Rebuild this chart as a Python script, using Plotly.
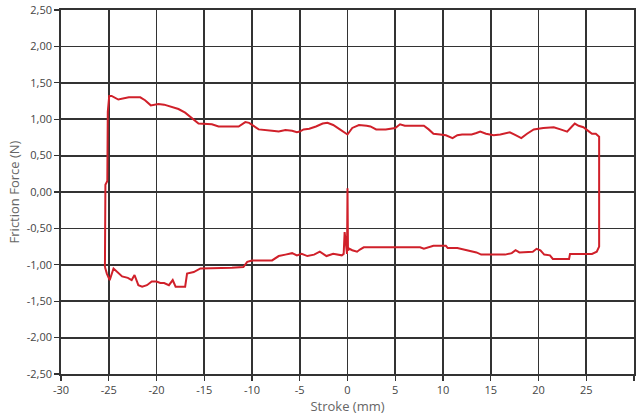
import plotly.graph_objects as go

# Forward stroke (upper branch), left -> right
upper_x = [-25.4, -25.35, -25.15, -25.1, -24.95, -24.7, -24.0, -23.5, -22.9, -21.7, -21.2, -20.6,
           -19.8, -19.2, -18.7, -17.7, -17.0, -16.5, -16.1, -15.6, -14.2, -13.5, -11.4, -10.9,
           -10.7, -10.3, -10.0, -9.3, -7.9, -7.2, -6.5, -5.8, -5.3, -5.0, -4.6, -4.0, -3.3, -2.6,
           -2.1, -1.5, -0.8, -0.3, 0.0, 0.5, 1.2, 2.0, 2.4, 3.0, 4.0, 5.0, 5.5, 6.0, 7.0, 8.0,
           8.5, 9.0, 9.7, 10.3, 11.0, 11.5, 12.0, 13.0, 13.5, 13.9, 14.5, 15.3, 16.0, 17.0, 17.6,
           18.2, 18.8, 19.5, 20.5, 21.6, 22.3, 23.0, 23.5, 23.8, 24.2, 24.7, 25.2, 25.6, 26.0, 26.3]
upper_y = [-1.03, 0.10, 0.15, 1.10, 1.32, 1.32, 1.27, 1.28, 1.30, 1.30, 1.26, 1.19,
           1.21, 1.20, 1.18, 1.14, 1.09, 1.04, 0.99, 0.94, 0.93, 0.90, 0.90, 0.94,
           0.96, 0.95, 0.92, 0.86, 0.84, 0.83, 0.85, 0.84, 0.82, 0.83, 0.86, 0.87, 0.90, 0.94,
           0.95, 0.92, 0.86, 0.81, 0.79, 0.88, 0.92, 0.91, 0.90, 0.86, 0.86, 0.88, 0.93, 0.91, 0.91, 0.91,
           0.86, 0.80, 0.79, 0.78, 0.74, 0.78, 0.79, 0.79, 0.81, 0.83, 0.80, 0.78, 0.79, 0.82, 0.78,
           0.74, 0.80, 0.86, 0.88, 0.89, 0.86, 0.83, 0.90, 0.94, 0.91, 0.89, 0.84, 0.80, 0.80, 0.76]

# Return stroke (lower branch), right -> left
lower_x = [26.35, 26.35, 26.1, 25.6, 23.3, 23.2, 21.5, 21.2, 20.6, 20.2, 19.8, 19.4, 18.0, 17.6,
           17.2, 16.5, 14.0, 13.5, 12.5, 12.0, 11.5, 10.5, 10.3, 9.0, 8.5, 8.0, 7.6, 7.0, 5.3,
           1.7, 1.3, 1.0, 0.5, 0.2, 0.05, 0.0, -0.05, -0.3, -0.4, -0.6, -1.5, -2.2, -2.9, -3.5,
           -4.2, -4.8, -5.3, -5.8, -6.5, -7.2, -7.9, -10.0, -10.5, -10.9, -12.1, -14.9, -15.4,
           -16.1, -16.8, -17.0, -18.0, -18.3, -18.7, -19.2, -19.6, -20.0, -20.5, -21.0, -21.5,
           -21.9, -22.3, -22.6, -23.0, -23.6, -24.1, -24.5, -24.9, -25.2, -25.4]
lower_y = [0.76, -0.75, -0.82, -0.85, -0.85, -0.92, -0.92, -0.87, -0.86, -0.80, -0.78, -0.82, -0.83, -0.80,
           -0.84, -0.86, -0.86, -0.83, -0.80, -0.79, -0.77, -0.77, -0.74, -0.74, -0.76, -0.78, -0.76, -0.76, -0.76,
           -0.76, -0.79, -0.82, -0.80, -0.78, -0.80, 0.05, -0.85, -0.55, -0.85, -0.87, -0.85, -0.88, -0.82, -0.86,
           -0.88, -0.85, -0.87, -0.84, -0.86, -0.88, -0.94, -0.94, -0.96, -1.03, -1.04, -1.04, -1.05,
           -1.10, -1.12, -1.30, -1.30, -1.21, -1.28, -1.25, -1.25, -1.23, -1.23, -1.28, -1.30,
           -1.28, -1.14, -1.21, -1.18, -1.16, -1.10, -1.05, -1.21, -1.12, -1.03]

x_ticks = [-30, -25, -20, -15, -10, -5, 0, 5, 10, 15, 20, 25, 30]
y_ticks = [2.5, 2.0, 1.5, 1.0, 0.5, 0.0, -0.5, -1.0, -1.5, -2.0, -2.5]
y_tick_labels = ["2,50", "2,00", "1,50", "1,00", "0,50", "0,00", "-0,50", "-1,00", "-1,50", "-2,00", "-2,50"]
x_tick_labels = ["-30", "-25", "-20", "-15", "-10", "-5", "0", "5", "10", "15", "20", "25", "30"]

fig = go.Figure()
fig.add_trace(go.Scatter(x=upper_x + lower_x, y=upper_y + lower_y, mode="lines",
                         line=dict(color="#d0202a", width=2), showlegend=False, hoverinfo="skip"))

axis_common = dict(showgrid=True, gridcolor="#333333", gridwidth=1.8,
                   showline=True, linecolor="#333333", linewidth=1.8, mirror=True,
                   ticks="outside", ticklen=5, tickcolor="#333333", tickwidth=1.2,
                   zeroline=False, automargin=False,
                   tickfont=dict(family="Open Sans", size=11, color="#444"))

fig.update_xaxes(range=[-30, 30], tickvals=x_ticks, ticktext=x_tick_labels,
                 title=dict(text="Stroke (mm)", font=dict(family="Open Sans", size=13, color="#666"),
                            standoff=5), **axis_common)
fig.update_yaxes(range=[-2.5, 2.5], tickvals=y_ticks, ticktext=y_tick_labels,
                 title=dict(text="Friction Force (N)", font=dict(family="Open Sans", size=13, color="#666"),
                            standoff=4), **axis_common)

fig.update_layout(width=640, height=418, margin=dict(l=61, r=6, t=10, b=44),
                  plot_bgcolor="white", paper_bgcolor="white")

# remove the default page margin so the figure sits at the window's top-left corner
fig.write_html("out.html", config={"displayModeBar": False, "staticPlot": True},
               post_script="document.body.style.margin='0px';document.body.style.overflow='hidden';")
